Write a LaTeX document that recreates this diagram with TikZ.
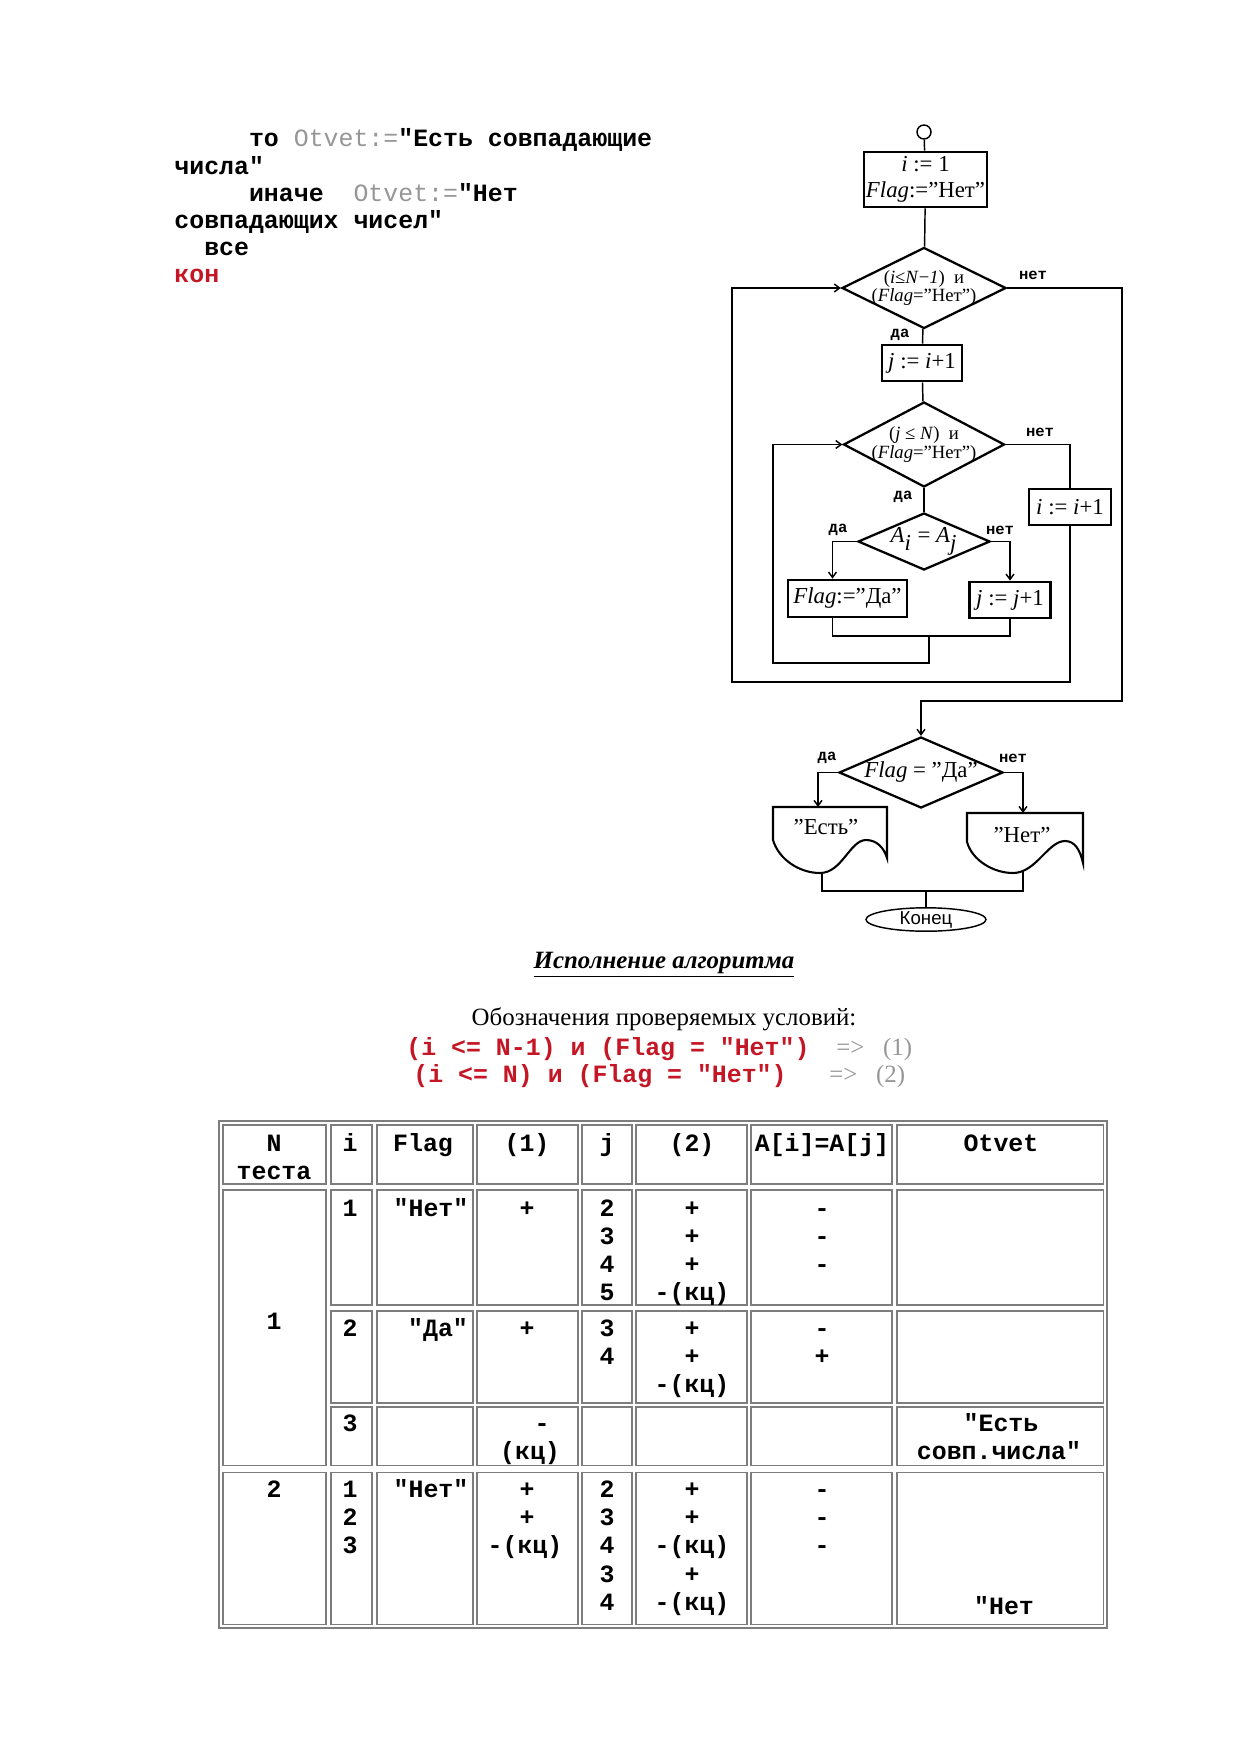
\documentclass[tikz,border=0pt]{standalone}
\usepackage{fontspec}
\setmainfont{Liberation Serif}
\setsansfont{Liberation Sans}
\setmonofont{Liberation Mono}
\usetikzlibrary{arrows.meta,shapes.geometric,calc}
\newdimen\pxu \pxu=0.016949cm
\definecolor{codered}{RGB}{196,22,36}
\definecolor{codegray}{RGB}{150,150,150}
\definecolor{tabline}{RGB}{125,125,125}
\tikzset{fc line/.style={draw=black, line width=0.7pt}}
\tikzset{fc arrow/.style={fc line, -{Straight Barb[length=2.6pt,width=3.8pt]}}}
\tikzset{fc box/.style={draw=black, line width=1.3pt, align=center, inner sep=0pt, font=\fontsize{11}{12.5}\selectfont}}
\tikzset{fc cond/.style={draw=black, shape=diamond, line width=1.1pt, inner sep=0pt}}
\tikzset{fc note/.style={align=center, inner sep=0pt}}
\tikzset{fc tag/.style={font=\ttfamily\bfseries\fontsize{7.5}{8}\selectfont, inner sep=0pt}}
\tikzset{doc text/.style={font=\fontsize{11}{12}\selectfont, inner sep=0pt}}
\tikzset{code/.style={font=\ttfamily\bfseries\fontsize{12}{13}\selectfont, anchor=base west, inner sep=0pt}}
\tikzset{tab frame/.style={draw=tabline, line width=0.6pt}}
\tikzset{tab cell/.style={draw=tabline, line width=0.5pt}}
\tikzset{tab text/.style={font=\ttfamily\bfseries\fontsize{12}{13}\selectfont, anchor=base, inner sep=0pt}}

\begin{document}
\begin{tikzpicture}[x=0.016949cm,y=-0.016949cm]
	\useasboundingbox (0,0) rectangle (1239,1754);

	% end of the program text
	\node[code] (ln1) at (174,147) {\hspace*{3em}то {\mdseries\color{codegray}Otvet:=}"Есть совпадающие};
	\node[code] (ln2) at (174,174.2) {числа"};
	\node[code] (ln3) at (174,201.4) {\hspace*{3em}иначе~~{\mdseries\color{codegray}Otvet:=}"Нет};
	\node[code] (ln4) at (174,228.6) {совпадающих чисел"};
	\node[code] (ln5) at (174,255.8) {\hspace*{1.2em}все};
	\node[code, text=codered] (ln6) at (174,283) {кон};

	% flowchart
	\node[circle, fc line, minimum size=14\pxu, inner sep=0pt] (start) at (924,132) {};
	\node[fc box, minimum width=123\pxu, minimum height=55\pxu] (init) at (925.5,179.5) {\textit{i} := 1\\\textit{Flag}:="Нет"};
	\node[fc cond, minimum width=164\pxu, minimum height=81\pxu] (cond1) at (924,288) {};
	\node[fc note, font=\fontsize{9}{8.5}\selectfont] (cond1txt) at (cond1.center) {(\textit{i}≤\textit{N}−\textit{1})\ \ и\\(\textit{Flag}="Нет")};
	\node[fc box, minimum width=80\pxu, minimum height=36\pxu] (setj) at (922,363) {\textit{j} := \textit{i}+1};
	\node[fc cond, minimum width=161\pxu, minimum height=85\pxu] (cond2) at (924,444.5) {};
	\node[fc note, font=\fontsize{9}{9.5}\selectfont] (cond2txt) at (cond2.center) {(\textit{j} ≤ \textit{N})\ \ и\\(\textit{Flag}="Нет")};
	\node[fc cond, minimum width=132\pxu, minimum height=57\pxu] (cmp) at (924,541.5) {};
	\node[fc note, font=\fontsize{11}{12}\selectfont] (cmptxt) at (cmp.center) {\textit{A}$_{\textit{i}}$ = \textit{A}$_{\textit{j}}$};
	\node[fc box, line width=0.9pt, minimum width=82\pxu, minimum height=36\pxu] (inci) at (1070,507) {\textit{i} := \textit{i}+1};
	\node[fc box, minimum width=119\pxu, minimum height=37\pxu] (setflag) at (847.5,598.5) {\textit{Flag}:="Да"};
	\node[fc box, minimum width=81\pxu, minimum height=36\pxu] (incj) at (1010,600) {\textit{j} := \textit{j}+1};
	\node[fc cond, minimum width=164\pxu, minimum height=71\pxu] (cond3) at (921,772.5) {};
	\node[fc note, font=\fontsize{11}{12}\selectfont] (cond3txt) at (cond3.center) {\textit{Flag} = "Да"};

	\node[fc tag] (no1) at (1033,275) {нет};
	\node[fc tag] (yes1) at (900,335) {да};
	\node[fc tag] (no2) at (1040,432) {нет};
	\node[fc tag] (yes2) at (903,497) {да};
	\node[fc tag] (yes3) at (838,530) {да};
	\node[fc tag] (no3) at (1000,530) {нет};
	\node[fc tag] (yes4) at (827,758) {да};
	\node[fc tag] (no4) at (1013,758) {нет};

	\draw[fc line] (start) -- (init);
	\draw[fc line] (init) -- (cond1);
	\draw[fc line] (cond1) -- (setj);
	\draw[fc line] (setj) -- (cond2);
	\draw[fc line] (cond2) -- (cmp);
	\draw[fc arrow] (cmp.west) -| ([xshift=-15\pxu]setflag.north);
	\draw[fc arrow] (cmp.east) -| (incj.north);
	\coordinate (merge) at (929,636);
	\draw[fc line] ([xshift=-15\pxu]setflag.south) |- (merge) -| (incj.south);
	\coordinate (loopj) at (773,663);
	\draw[fc arrow] (merge) |- (loopj) |- (cond2.west);
	\draw[fc line] (cond2.east) -| (inci.north);
	\coordinate (loopi) at (732,682);
	\draw[fc arrow] (inci.south) |- (loopi) |- (cond1.west);
	\coordinate (exit) at (1122,701);
	\draw[fc arrow] (cond1.east) -| (exit) -| (cond3.north);

	% output documents
	\draw[fc line, line width=1pt] (773,807) -- (887,807) -- (887,858)
		.. controls (884,848) and (877,840) .. (866,840)
		.. controls (850,840) and (842,873) .. (820,873)
		.. controls (800,873) and (779,860) .. (773,840) -- cycle;
	\node[doc text] (yes) at (826,827) {"Есть"};
	\draw[fc line, line width=1pt] (967,813) -- (1083,813) -- (1083,863)
		.. controls (1080,850) and (1075,841) .. (1065,841)
		.. controls (1048,841) and (1036,873) .. (1013,873)
		.. controls (993,873) and (972,860) .. (967,842) -- cycle;
	\node[doc text] (no) at (1022,835) {"Нет"};
	\coordinate (yestop) at (818,807);
	\coordinate (notop) at (1023,813);
	\coordinate (yesbot) at (822,873);
	\coordinate (nobot) at (1023,871);
	\coordinate (join) at (926,891);
	\draw[fc arrow] (cond3.west) -| (yestop);
	\draw[fc arrow] (cond3.east) -| (notop);
	\draw[fc line] (yesbot) |- (join) -| (nobot);
	\node[ellipse, fc line, minimum width=120\pxu, minimum height=19\pxu, inner sep=0pt, font=\sffamily\fontsize{9}{10}\selectfont] (stop) at (926,919.5) {Конец};
	\draw[fc line] (join) -- (stop);

	% headings
	\node[anchor=base, inner sep=0pt, font=\fontsize{12}{14}\selectfont\bfseries\itshape] (title) at (664,968) {\underline{Исполнение алгоритма}};
	\node[anchor=base, inner sep=0pt, font=\fontsize{12}{14}\selectfont] (legend) at (664,1025) {Обозначения проверяемых условий:};
	\node[code, text=codered] (cnd1) at (406,1055) {(i <= N-1) и (Flag = "Нет")};
	\node[anchor=base west, inner sep=0pt, text=codegray, font=\fontsize{12}{14}\selectfont] (imp1) at (836,1055) {=>\hspace{9pt}(1)};
	\node[code, text=codered] (cnd2) at (413,1082) {(i <= N) и (Flag = "Нет")};
	\node[anchor=base west, inner sep=0pt, text=codegray, font=\fontsize{12}{14}\selectfont] (imp2) at (829,1082) {=>\hspace{9pt}(2)};

	% trace table
	\draw[tab frame] (219,1121) rectangle (1107,1628);
	\foreach \xa/\xb in {223/326,331/372,377/473,477/578,582/632,636/747,751/892,897/1103}{
		\draw[tab cell] (\xa,1125) rectangle (\xb,1184);
		\draw[tab cell] (\xa,1472) rectangle (\xb,1624);
	}
	\draw[tab cell] (223,1190) rectangle (326,1465);
	\foreach \xa/\xb in {331/372,377/473,477/578,582/632,636/747,751/892,897/1103}{
		\foreach \ya/\yb in {1190/1305,1311/1403,1407/1465}
			\draw[tab cell] (\xa,\ya) rectangle (\xb,\yb);
	}
	\foreach \cx/\cy/\ct [count=\k] in {
		274/1151/N, 274/1179/теста, 350/1151/i, 423/1151/Flag, 527/1151/(1), 607/1151/j, 692/1151/(2), 822/1151/A[i]=A[j], 1001/1151/Otvet,
		274/1329/1, 274/1497/2,
		350/1216/1, 431/1216/"Нет", 527/1216/+, 607/1216/2, 607/1244/3, 607/1272/4, 607/1300/5,
		692/1216/+, 692/1244/+, 692/1272/+, 692/1300/-(кц), 822/1216/-, 822/1244/-, 822/1272/-,
		350/1336/2, 438/1336/"Да", 527/1336/+, 607/1336/3, 607/1364/4,
		692/1336/+, 692/1364/+, 692/1392/-(кц), 822/1336/-, 822/1364/+,
		350/1431/3, 542/1431/-, 530/1459/(кц), 1001/1431/"Есть, 999/1459/совп.числа",
		350/1497/1, 350/1525/2, 350/1553/3, 431/1497/"Нет", 527/1497/+, 527/1525/+, 525/1553/-(кц),
		607/1497/2, 607/1525/3, 607/1553/4, 607/1582/3, 607/1610/4,
		692/1497/+, 692/1525/+, 692/1553/-(кц), 692/1582/+, 692/1610/-(кц),
		822/1497/-, 822/1525/-, 822/1553/-, 1004/1614/"Нет}
		\node[tab text] (cell\k) at (\cx,\cy) {\ct};
\end{tikzpicture}
\end{document}
